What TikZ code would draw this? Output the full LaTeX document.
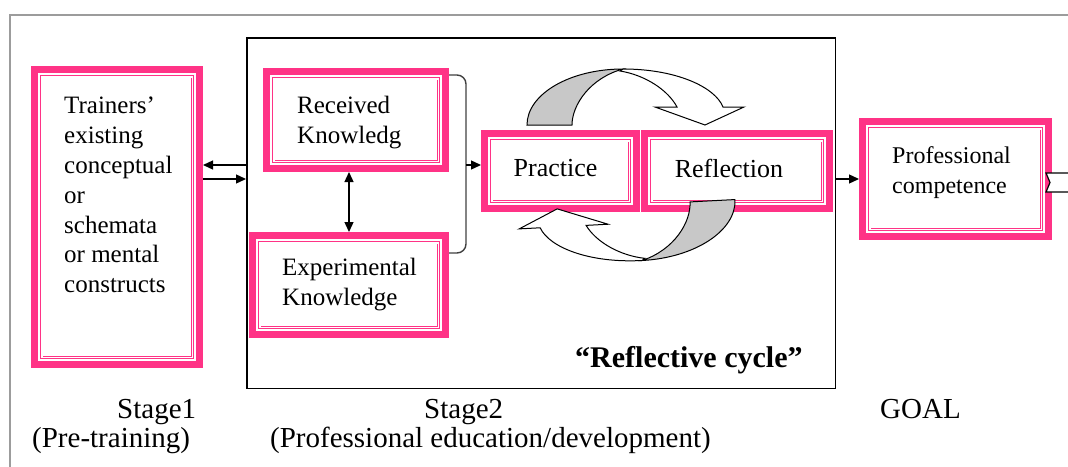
\documentclass[tikz,border=0pt]{standalone}
\usepackage{fontspec}
\setmainfont{Liberation Serif}
\usetikzlibrary{arrows.meta}
\definecolor{kpink}{HTML}{FF3386}
\definecolor{kgray}{HTML}{C8C8C8}
\definecolor{kframe}{HTML}{9C9C9C}
\tikzset{
  kbox/.style={draw=kpink, line width=7pt, fill=white, inner sep=0pt},
  kinner/.style={draw=kpink, line width=0.9pt, double=white, double distance=1.6pt},
  kstage/.style={draw, line width=1.5pt, inner sep=0pt},
  ktext/.style={font=\fontsize{25}{30}\selectfont, align=left, inner sep=0pt},
  klabel/.style={font=\fontsize{29}{34}\selectfont, inner sep=0pt, anchor=base west},
  kcycle/.style={font=\fontsize{30}{34}\selectfont\bfseries, inner sep=0pt, anchor=base west},
  karrow/.style={line width=1.3pt, -{Triangle[length=10pt,width=9pt]}},
  kdarrow/.style={line width=1.3pt, {Triangle[length=10pt,width=9pt]}-{Triangle[length=10pt,width=9pt]}},
  kbrace/.style={draw=black!75, line width=1.4pt, rounded corners=9pt},
  kback/.style={draw=black, line width=1pt, fill=kgray},
  kfront/.style={draw=black, line width=1pt, fill=white},
  cyclearrow/.pic={
    \draw[kback] (-103,-40) .. controls (-103,-71) and (-60,-96) .. (-7,-96)
      .. controls (-40,-87) and (-58,-60) .. (-58,-40) -- cycle;
    \draw[kfront] (-7,-96) .. controls (46,-96) and (85,-78) .. (93,-58)
      -- (114,-58) -- (75,-40) -- (25,-58) -- (47,-58)
      .. controls (38,-75) and (15,-90) .. (-10,-94) -- cycle;
  }
}
\begin{document}
\begin{tikzpicture}[x=1pt, y=-1pt]
\useasboundingbox (0,0) rectangle (1068,466);
\clip (0,0) rectangle (1068,466);
%frame
\draw[kframe, line width=2pt] (10,480) -- (10,15) -- (1080,15);
%stage 2
\node[kstage, minimum width=588.5pt, minimum height=350.5pt] (stage) at (541,213) {};
%boxes
\node[kbox, minimum width=165pt, minimum height=295pt] (trainers) at (117,217) {};
\node[kbox, minimum width=179pt, minimum height=97pt] (recv) at (356,120) {};
\node[kbox, minimum width=193pt, minimum height=99pt] (expk) at (349,285) {};
\node[kbox, minimum width=152pt, minimum height=75pt] (prac) at (560.5,171) {};
\node[kbox, minimum width=185pt, minimum height=75pt] (refl) at (737,171) {};
\node[kbox, minimum width=186pt, minimum height=115pt] (prof) at (955.5,179) {};
\foreach \n in {trainers,recv,expk,prac,refl,prof}
  \draw[kinner] ([shift={(10.7,10.7)}]\n.north west) rectangle ([shift={(-10.7,-10.7)}]\n.south east);
%texts
\node[ktext, anchor=north west, font=\fontsize{25}{29.8}\selectfont] (trainers-t) at ([shift={(33,31)}]trainers.north west)
  {Trainers’\\existing\\conceptual\\or\\schemata\\or mental\\constructs};
\node[ktext, anchor=west] (recv-t) at ([shift={(34,3)}]recv.west) {Received\\Knowledg};
\node[ktext, anchor=west] (expk-t) at ([shift={(33,0)}]expk.west) {Experimental\\Knowledge};
\node[ktext, font=\fontsize{26}{30}\selectfont] (prac-t) at ([shift={(-5,-3)}]prac.center) {Practice};
\node[ktext, font=\fontsize{26}{30}\selectfont] (refl-t) at ([shift={(-8,-3)}]refl.center) {Reflection};
\node[ktext, anchor=west, font=\fontsize{24}{30}\selectfont] (prof-t) at ([shift={(33,-6.5)}]prof.west) {Professional\\competence};
\node[kcycle] (cycle) at (575,367) {“Reflective cycle”};
\node[klabel] (stage1) at (117,418) {Stage1};
\node[klabel] (stage1-s) at (32,447) {(Pre-training)};
\node[klabel] (stage2) at (424,418) {Stage2};
\node[klabel] (stage2-s) at (270,447) {(Professional education/development)};
\node[klabel] (goal) at (880,418) {GOAL};
%arrows
\coordinate (tin) at ([yshift=52pt]trainers.east);
\coordinate (tout) at ([yshift=38pt]trainers.east);
\draw[karrow] (tin -| stage.west) -- (tin);
\draw[karrow] (tout) -- (tout -| stage.west);
\draw[kdarrow] (recv.south -| expk.north) -- (expk.north);
\coordinate (bt) at ([yshift=-7pt]recv.north east);
\coordinate (bb) at ([yshift=-21pt]expk.north east);
\coordinate (bx) at ([xshift=17pt]bt);
\draw[kbrace] (bt) -- (bx) |- (bb);
\coordinate (pin) at ([yshift=6pt]prac.west);
\draw[karrow] (pin -| bx) -- (pin);
\draw[karrow] (prof.west -| stage.east) -- (prof.west);
\draw[kfront, line width=1.2pt] (1046,173) -- (1075,173) -- (1075,192) -- (1046,192) -- (1050,182.5) -- cycle;
%cycle
\pic at (630,165) {cyclearrow};
\pic[rotate=183] at (630,165) {cyclearrow};
\end{tikzpicture}
\end{document}
